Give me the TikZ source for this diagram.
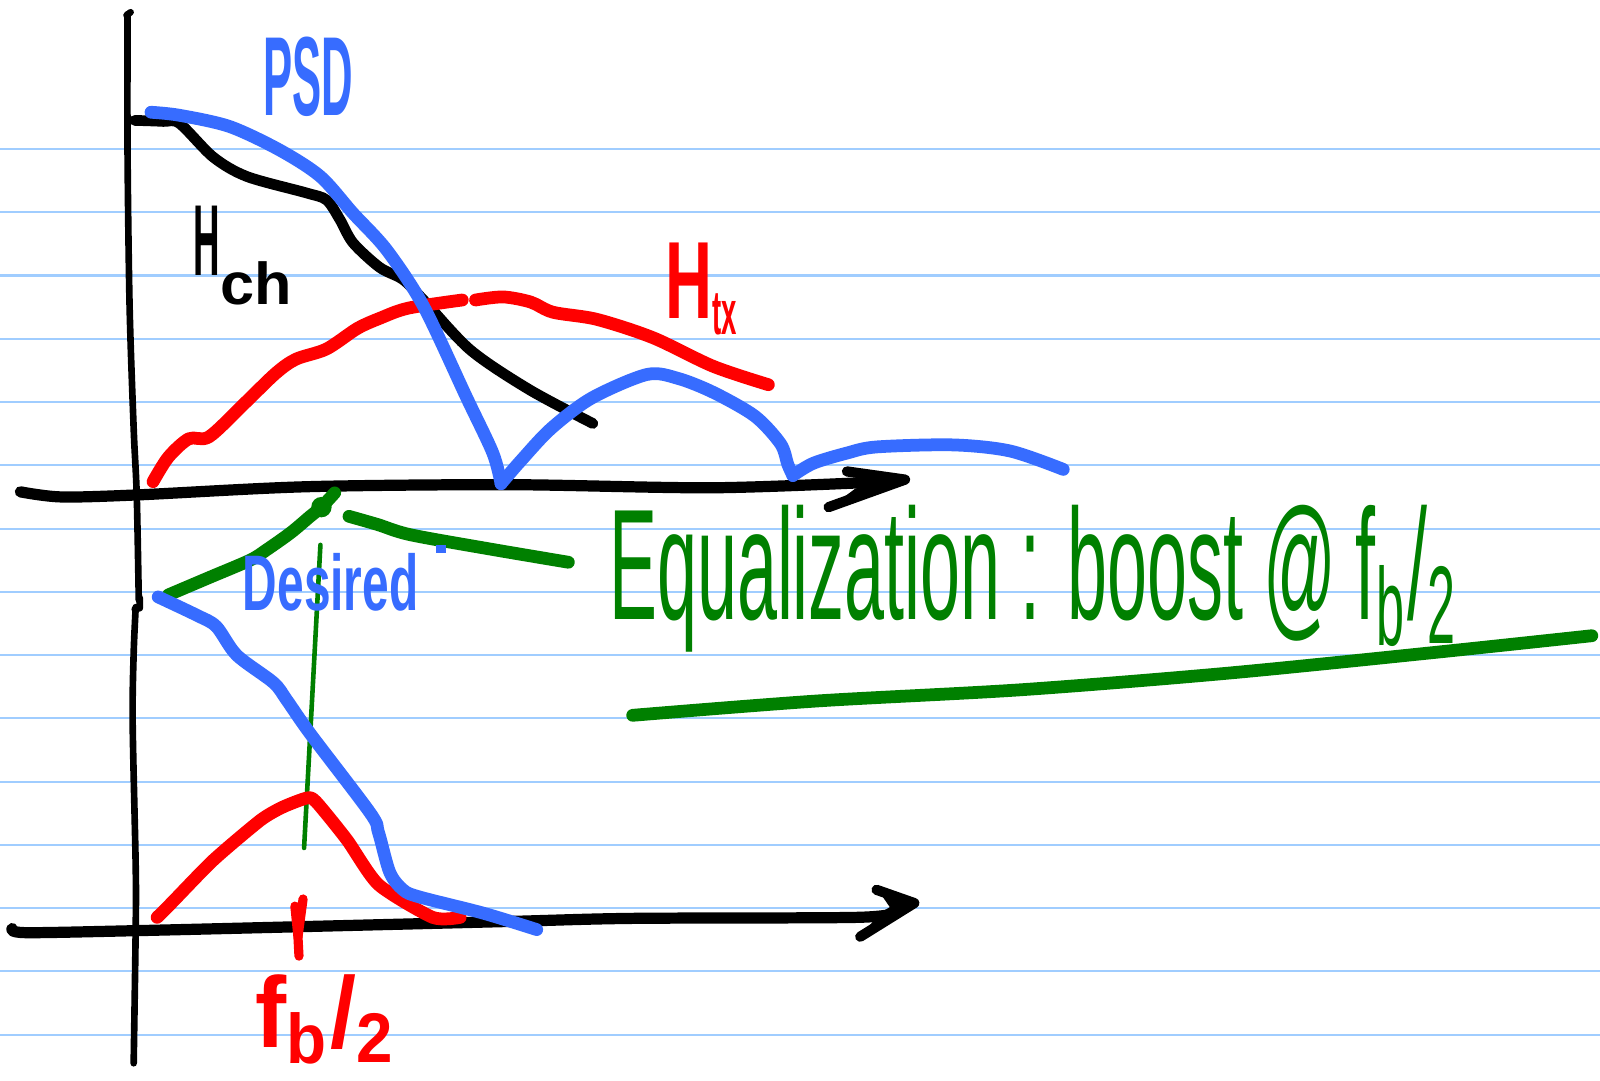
\documentclass[tikz,border=0pt]{standalone}
\usepackage{fontspec}
\setmainfont{Liberation Sans}
\usepackage{graphicx}
\definecolor{pblue}{RGB}{55,108,255}
\definecolor{pred}{RGB}{255,0,0}
\definecolor{pgreen}{RGB}{0,128,0}
\definecolor{ruleblue}{RGB}{160,205,255}
\begin{document}
\begin{tikzpicture}[x=1pt,y=-1pt, line cap=round, line join=round,
  ruled/.style={ruleblue, line width=2},
  axisv/.style={black, line width=6.5},
  axish/.style={black, line width=11},
  curve/.style={line width=12.5},
  lbl/.style={inner sep=0pt, outer sep=0pt, anchor=north west}]
\useasboundingbox (0,0) rectangle (1568,1059);
\fill[white] (0,0) rectangle (1568,1059);
% ruled paper lines
\foreach \k in {0,...,14} \draw[ruled] (0,{146+62*\k}) -- (1568,{146+62*\k});

% ---------- top graph ----------
% vertical axis
\draw[axisv] plot[smooth, tension=0.5] coordinates {(125,14) (125,150) (127,300) (131,420) (134,485) (136,588)};
\draw[axisv] (128,12) -- (124,15);
% horizontal axis with arrow
\draw[axish] plot[smooth, tension=0.5] coordinates {(20,482) (60,487) (135,485) (300,477) (500,475) (700,478) (868,472)};
\fill[black] (830,460) -- (889,468) -- (889,474) -- (811,499) -- (838,479) -- (852,474) -- cycle;
\draw[black, line width=10] (830,462) -- (887,470) -- (812,497);

% H_ch (black)
\draw[black, line width=10.5] plot[smooth, tension=0.5] coordinates {(132,118) (160,119) (176,121) (209,154) (242,173) (300,189) (320,196) (333,215) (346,238) (372,262) (395,274) (415,294) (461,343) (519,382) (581,415)};
% H_tx (red)
\draw[pred, curve] plot[smooth, tension=0.5] coordinates {(150,472) (165,448) (185,430) (205,428) (240,395) (270,366) (290,352) (320,342) (350,322) (372,312) (400,302) (453,294)};
\draw[pred, curve] plot[smooth, tension=0.5] coordinates {(466,294) (493,291) (520,296) (542,306) (585,313) (640,331) (699,359) (753,377)};
% PSD (blue)
\draw[pblue, curve] plot[smooth, tension=0.5] coordinates {(148,110) (176,113) (225,124) (274,147) (314,173) (346,209) (379,245) (415,300) (457,389) (483,444) (491,474)};
\draw[pblue, curve] plot[smooth, tension=0.5] coordinates {(491,474) (510,452) (540,420) (580,390) (634,367) (665,371) (700,385) (740,408) (765,435) (772,455) (777,466)};
\draw[pblue, curve] plot[smooth, tension=0.5] coordinates {(777,466) (797,454) (830,444) (859,438) (934,436) (990,442) (1042,460)};

% labels top
\node[lbl, text=pblue] (psd) at (258,36) {\resizebox*{88pt}{78pt}{\bfseries PSD}};
\node[lbl, anchor=base west, text=black] (hch) at (190,270) {\bfseries\resizebox{26pt}{68pt}{H}\raisebox{-28pt}{\resizebox{70pt}{42pt}{ch}}};
\node[lbl, anchor=base west, text=pred] (htx) at (652,312) {\bfseries\resizebox{46pt}{74pt}{H}\raisebox{-16pt}{\resizebox{24pt}{40pt}{tx}}};

% ---------- green equalizer ----------
\draw[pgreen, curve] plot[smooth, tension=0.5] coordinates {(165,583) (205,566) (245,549) (261,539) (285,522) (304,506) (315,497) (328,483)};
\fill[pgreen] (315,497) circle (10);
\draw[pgreen, curve] plot[smooth, tension=0.5] coordinates {(342,506) (370,514) (402,524) (480,538) (557,551)};
\fill[pblue] (427,534) rectangle (437,542);
\draw[pgreen, line width=4.5] (314,534) -- (298,831);
\draw[pgreen, curve] plot[smooth, tension=0.5] coordinates {(620,701) (800,687) (1000,676) (1200,660) (1400,640) (1560,623)};
\node[lbl, text=pgreen] (eq) at (597,495) {\resizebox*{833pt}{144pt}{Equalization : boost @ f\textsubscript{b}/\textsubscript{2}}};

% ---------- bottom graph ----------
\draw[axisv] plot[smooth, tension=0.5] coordinates {(133,595) (131,640) (130,708) (133,850) (133,908) (131,1042)};
\draw[axisv] (137,586) -- (137,596) -- (132,597);
\draw[axish] plot[smooth, tension=0.5] coordinates {(12,910) (25,914) (135,912) (300,908) (500,903) (620,900) (840,899) (878,894)};
\fill[black] (859,870) -- (898,883) -- (898,888) -- (842,920) -- (862,895) -- (872,889) -- cycle;
\draw[black, line width=10] (859,872) -- (896,885) -- (843,918);

\draw[pred, curve] plot[smooth, tension=0.4] coordinates {(154,899) (168,885) (209,843) (255,804) (277,791) (301,782) (310,786) (340,823) (371,867) (424,899) (451,899)};
\draw[pblue, curve] plot[smooth, tension=0.5] coordinates {(155,585) (193,603) (212,614) (232,642) (268,669) (281,686) (304,719) (363,797) (371,816) (382,855) (395,872) (411,879) (474,895) (526,911)};
\draw[pred, line width=9] (289,888) -- (292,918) -- (293,937);
\draw[pred, line width=9] (297,881) -- (292,918);

\node[lbl, anchor=base west, text=pblue] (desired) at (238,598) {\resizebox{172pt}{56pt}{\bfseries Desired}};
\node[lbl, text=pred] (fb) at (250,955) {\resizebox*{140pt}{88pt}{\bfseries f\textsubscript{b}/\textsubscript{2}}};
\end{tikzpicture}
\end{document}
